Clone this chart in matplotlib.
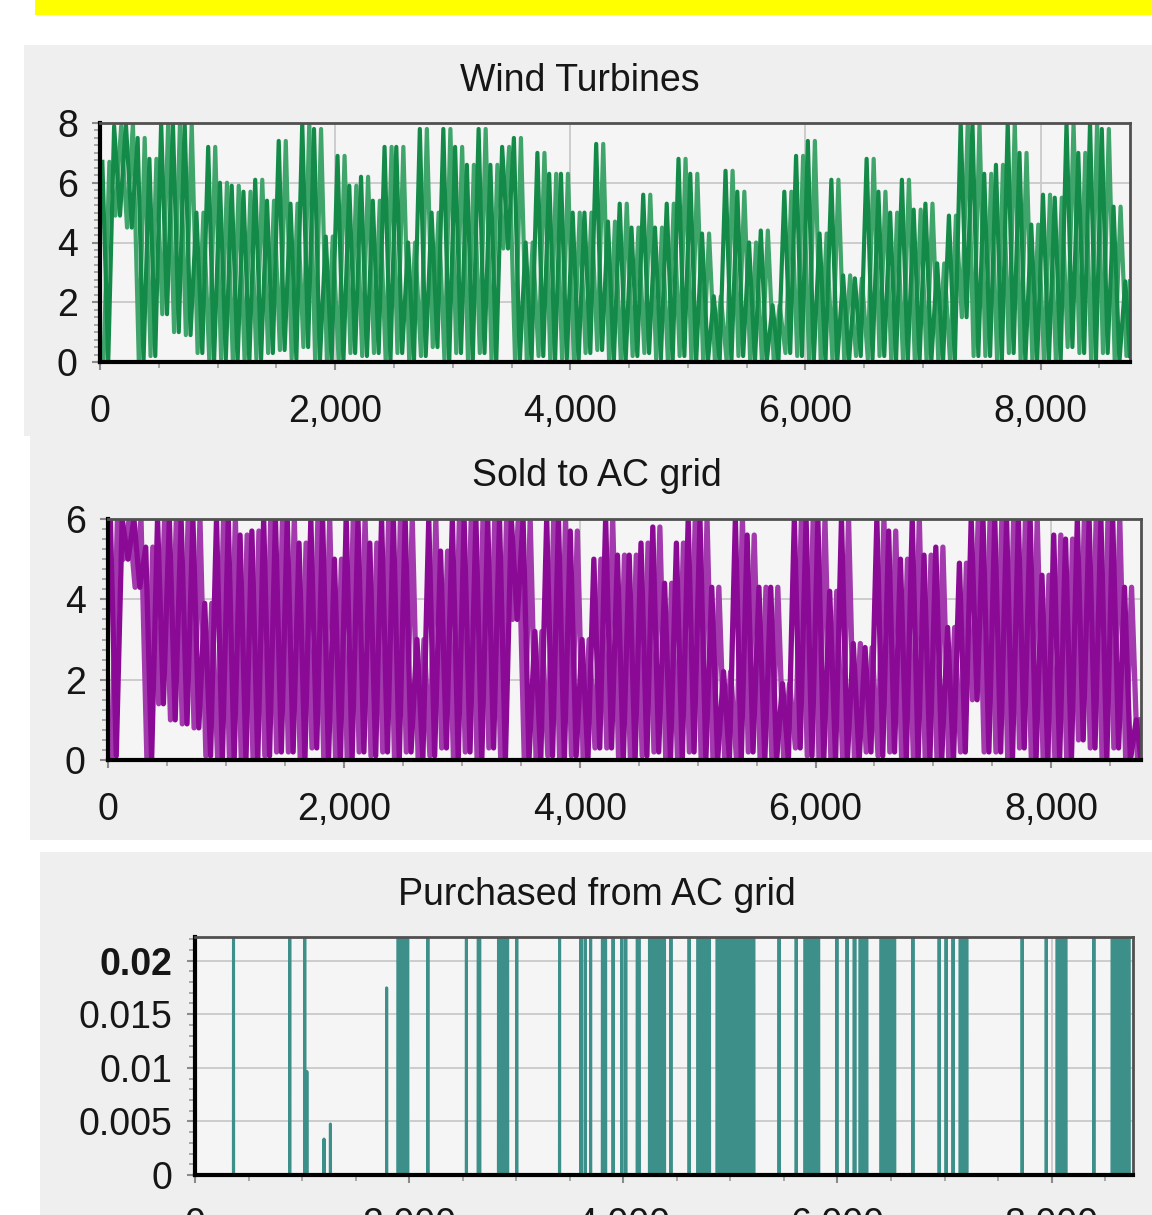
import numpy as np
import matplotlib.pyplot as plt
from matplotlib.patches import Rectangle
from matplotlib.ticker import MultipleLocator, FuncFormatter

plt.rcParams['font.family'] = ['Liberation Sans', 'DejaVu Sans']

HOURS = 8760
BIN = 100  # hours per bin of the read-off envelopes

# Wind turbine output, per 100-hour bin: highest and lowest value seen
wind_hi = [6.7, 7.9, 8.0, 7.5, 6.8, 8.0, 8.0, 8.0, 5.0, 7.2,
           6.0, 5.9, 5.7, 6.1, 5.4, 7.4, 5.3, 8.0, 7.8, 4.2,
           6.9, 5.9, 6.2, 5.4, 7.2, 7.2, 4.0, 7.8, 5.0, 7.8,
           7.2, 6.6, 7.8, 6.6, 7.2, 7.5, 4.0, 7.0, 6.3, 6.3,
           5.0, 5.0, 7.3, 4.7, 5.3, 4.5, 5.6, 4.5, 5.3, 6.8,
           6.3, 4.3, 2.2, 6.4, 5.7, 4.0, 4.4, 1.9, 5.7, 6.9,
           7.4, 4.3, 6.1, 2.9, 2.8, 6.8, 5.7, 5.0, 6.1, 5.1,
           5.3, 3.3, 4.9, 8.0, 8.0, 6.3, 6.6, 8.0, 7.0, 4.6,
           5.6, 5.5, 8.0, 7.0, 8.0, 7.8, 5.2, 2.7]
wind_lo = [0.0, 4.9, 4.5, 0.0, 0.2, 1.6, 1.0, 0.9, 0.3, 0.0,
           0.1, 0.0, 0.0, 0.1, 0.3, 0.4, 0.1, 0.5, 0.0, 0.0,
           0.0, 0.3, 0.2, 0.3, 0.0, 0.3, 0.0, 0.2, 0.5, 0.0,
           0.3, 0.0, 0.3, 0.0, 3.8, 0.0, 0.0, 0.2, 0.0, 0.1,
           0.0, 0.3, 0.4, 0.0, 0.0, 0.2, 0.3, 0.1, 0.0, 0.2,
           0.0, 0.0, 0.0, 0.0, 0.2, 0.0, 0.0, 0.0, 0.3, 0.2,
           0.0, 0.0, 0.0, 0.0, 0.2, 0.1, 0.2, 0.0, 0.0, 0.0,
           0.0, 0.0, 0.0, 1.5, 0.2, 0.2, 0.0, 0.3, 0.0, 0.0,
           0.0, 0.0, 0.5, 0.3, 0.0, 0.3, 0.0, 0.2]

# Sold to AC grid, same bins
sold_hi = [6.0, 6.0, 6.0, 5.3, 6.0, 6.0, 6.0, 6.0, 3.9, 6.0,
           6.0, 5.6, 5.7, 6.0, 6.0, 6.0, 5.4, 6.0, 6.0, 5.0,
           6.0, 6.0, 5.4, 6.0, 6.0, 6.0, 3.0, 6.0, 5.2, 6.0,
           6.0, 6.0, 6.0, 6.0, 6.0, 6.0, 3.2, 6.0, 6.0, 5.7,
           3.0, 5.0, 6.0, 5.1, 5.1, 5.4, 5.8, 4.4, 5.4, 6.0,
           6.0, 4.3, 2.2, 6.0, 5.6, 4.3, 4.3, 1.9, 6.0, 6.0,
           6.0, 4.2, 6.0, 2.9, 2.8, 6.0, 5.7, 5.0, 6.0, 5.1,
           5.3, 3.3, 4.9, 6.0, 6.0, 6.0, 6.0, 6.0, 6.0, 4.6,
           5.6, 5.5, 6.0, 6.0, 6.0, 6.0, 4.3, 1.0]
sold_lo = [0.1, 5.0, 4.3, 0.0, 1.4, 1.0, 0.9, 0.8, 0.1, 0.0,
           0.0, 0.0, 0.0, 0.1, 0.2, 0.2, 0.0, 0.3, 0.0, 0.0,
           0.0, 0.2, 0.1, 0.2, 0.0, 0.2, 0.0, 0.1, 0.3, 0.0,
           0.2, 0.0, 0.3, 0.0, 3.5, 0.0, 0.0, 0.1, 0.0, 0.1,
           0.0, 0.3, 0.3, 0.0, 0.0, 0.1, 0.2, 0.0, 0.0, 0.2,
           0.0, 0.0, 0.0, 0.0, 0.2, 0.0, 0.0, 0.0, 0.3, 0.1,
           0.0, 0.0, 0.0, 0.0, 0.2, 0.1, 0.2, 0.0, 0.0, 0.0,
           0.0, 0.0, 0.2, 1.5, 0.2, 0.2, 0.0, 0.3, 0.0, 0.0,
           0.0, 0.0, 0.5, 0.3, 0.0, 0.3, 0.0, 0.0]

# Purchased from AC grid: hours with non-zero purchase (start, end, value)
buy_start = [355, 880, 1020, 1040, 1200, 1260, 1785, 1890, 2170, 2530,
             2640, 2830, 3000, 3400, 3600, 3640, 3690, 3800, 3900, 3980,
             4015, 4125, 4240, 4440, 4610, 4690, 4870, 5065, 5450, 5610,
             5690, 5990, 6085, 6150, 6205, 6400, 6700, 6945, 7010, 7075,
             7140, 7720, 7945, 8045, 8390, 8560]
buy_end = [355, 880, 1020, 1040, 1200, 1260, 1785, 1980, 2170, 2530,
           2655, 2915, 3000, 3400, 3600, 3640, 3690, 3830, 3900, 3980,
           4020, 4145, 4380, 4440, 4610, 4800, 5065, 5215, 5450, 5610,
           5820, 5990, 6085, 6160, 6270, 6530, 6700, 6945, 7010, 7075,
           7205, 7720, 7945, 8130, 8390, 8720]
buy_value = [0.03, 0.03, 0.03, 0.0097, 0.0034, 0.0048, 0.0175, 0.03, 0.03, 0.03,
             0.03, 0.03, 0.03, 0.03, 0.03, 0.03, 0.03, 0.03, 0.03, 0.03,
             0.03, 0.03, 0.03, 0.03, 0.03, 0.03, 0.03, 0.03, 0.03, 0.03,
             0.03, 0.03, 0.03, 0.03, 0.03, 0.03, 0.03, 0.03, 0.03, 0.03,
             0.03, 0.03, 0.03, 0.03, 0.03, 0.03]

W, H = 1152, 1215
PANEL = '#efefef'
PLOT_BG = '#f5f5f5'
TEXT = '#161616'
FS = 27


def px_rect(x0, y0, x1, y1):
    """pixel box (top-left origin) -> figure fraction [l, b, w, h]"""
    return [x0 / W, 1 - y1 / H, (x1 - x0) / W, (y1 - y0) / H]


def zigzag(first, second, a=0.2, b=0.7):
    x, y = [], []
    for k, (p, q) in enumerate(zip(first, second)):
        x += [k * BIN + a * BIN, k * BIN + b * BIN]
        y += [p, q]
    return np.clip(x, 0, HOURS), y


def draw_series(ax, hi, lo, color, light, lw):
    # each bin swings between its low and high; drawn in two phases so the
    # strokes are as dense as in the hourly original
    x, y = zigzag(lo, hi, 0.3, 0.8)
    ax.plot(x, y, color=light, lw=lw, zorder=3)
    x, y = zigzag(hi, lo, 0.2, 0.7)
    ax.plot(x, y, color=color, lw=lw, zorder=4)


def style_axes(ax, ymax, ymajor, yminor):
    ax.set_facecolor(PLOT_BG)
    ax.set_xlim(0, HOURS)
    ax.set_ylim(0, ymax)
    ax.xaxis.set_major_locator(MultipleLocator(2000))
    ax.xaxis.set_minor_locator(MultipleLocator(500))
    ax.yaxis.set_major_locator(MultipleLocator(ymajor))
    ax.yaxis.set_minor_locator(MultipleLocator(yminor))
    ax.xaxis.set_major_formatter(FuncFormatter(lambda v, p: f"{v:,.0f}"))
    ax.grid(True, which='major', color='#c9c9c9', lw=1.3, zorder=0)
    ax.set_axisbelow(True)
    ax.tick_params(which='major', length=6, width=1.5, color='#8a8a8a',
                   labelsize=FS, labelcolor=TEXT)
    ax.tick_params(which='minor', length=4, width=1.2, color='#9a9a9a')
    ax.tick_params(axis='x', which='both', pad=17)
    ax.tick_params(axis='y', which='major', pad=10)
    for side in ('left', 'bottom'):
        ax.spines[side].set_linewidth(3)
        ax.spines[side].set_color('black')
        ax.spines[side].set_zorder(6)
    for side in ('top', 'right'):
        ax.spines[side].set_linewidth(2)
        ax.spines[side].set_color('#505050')
        ax.spines[side].set_zorder(6)


fig = plt.figure(figsize=(W / 100, H / 100), dpi=100)
fig.patch.set_facecolor('white')

# yellow banner and panel backgrounds of the screenshot
for (x0, y0, x1, y1), c in [((35, 0, W, 15), '#ffff00'),
                            ((24, 45, W, 436), PANEL),
                            ((30, 436, W, 840), PANEL),
                            ((40, 852, W, H), PANEL)]:
    l, b, w, h = px_rect(x0, y0, x1, y1)
    fig.patches.append(Rectangle((l, b), w, h, transform=fig.transFigure,
                                 facecolor=c, edgecolor='none', zorder=-5))

# Wind Turbines
ax1 = fig.add_axes(px_rect(100, 123, 1130, 362))
style_axes(ax1, 8, 2, 0.25)
draw_series(ax1, wind_hi, wind_lo, '#148a48', '#3fa56a', 3.0)
fig.text(580 / W, 1 - 81 / H, 'Wind Turbines', ha='center', va='center',
         fontsize=FS, color=TEXT)

# Sold to AC grid
ax2 = fig.add_axes(px_rect(108, 519, 1141, 760))
style_axes(ax2, 6, 2, 0.25)
draw_series(ax2, sold_hi, sold_lo, '#8a0a95', '#a23aae', 3.8)
fig.text(597 / W, 1 - 476 / H, 'Sold to AC grid', ha='center', va='center',
         fontsize=FS, color=TEXT)

# Purchased from AC grid
ax3 = fig.add_axes(px_rect(195, 937, 1133, 1175))
style_axes(ax3, 0.0222, 0.005, 0.001)
hours = np.arange(HOURS)
bought = np.zeros(HOURS)
for s, e, v in zip(buy_start, buy_end, buy_value):
    bought[s:e + 1] = v
ax3.fill_between(hours, bought, color='#3d8f89', edgecolor='#3d8f89',
                 lw=2.2, zorder=3)
ax3.set_yticks([0, 0.005, 0.01, 0.015, 0.02])
ax3.yaxis.set_major_formatter(FuncFormatter(lambda v, p: f"{v:g}"))
fig.canvas.draw()
ax3.get_yticklabels()[-1].set_fontweight('bold')
fig.text(597 / W, 1 - 895 / H, 'Purchased from AC grid', ha='center',
         va='center', fontsize=FS, color=TEXT)

fig.savefig('out.png', dpi=100, facecolor=fig.get_facecolor())
